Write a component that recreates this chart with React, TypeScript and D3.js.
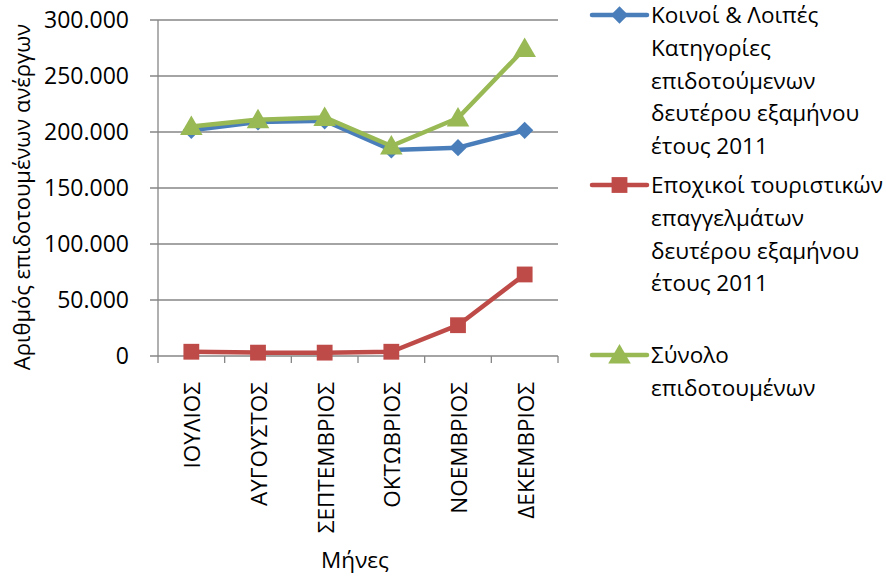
import React, { useEffect, useRef } from "react";
import * as d3 from "d3";

const months = ["ΙΟΥΛΙΟΣ", "ΑΥΓΟΥΣΤΟΣ", "ΣΕΠΤΕΜΒΡΙΟΣ", "ΟΚΤΩΒΡΙΟΣ", "ΝΟΕΜΒΡΙΟΣ", "ΔΕΚΕΜΒΡΙΟΣ"];
const commonValues = [201500, 209000, 210000, 184000, 186000, 201500];
const seasonalValues = [3800, 3000, 3000, 3800, 27500, 72800];
const totalValues = [205000, 211000, 213000, 187500, 212500, 274500];
const yTicks = [0, 50000, 100000, 150000, 200000, 250000, 300000];
const yTickLabels = ["0", "50.000", "100.000", "150.000", "200.000", "250.000", "300.000"];
const seriesNames = [
  ["Κοινοί & Λοιπές", "Κατηγορίες", "επιδοτούμενων", "δευτέρου εξαμήνου", "έτους 2011"],
  ["Εποχικοί τουριστικών", "επαγγελμάτων", "δευτέρου εξαμήνου", "έτους 2011"],
  ["Σύνολο", "επιδοτουμένων"],
];
const colors = ["#4A7EBB", "#BE4B48", "#98B954"];
const markers = ["diamond", "square", "triangle"];

const FONT = "'Open Sans', 'Noto Sans', sans-serif";
const FS = 22.5;
const FS_TICK = 23;

export default function App() {
  const ref = useRef<SVGSVGElement>(null);
  useEffect(() => {
    const svg = d3.select(ref.current);
    svg.selectAll("*").remove();
    const left = 158, right = 558, top = 20, bottom = 356;
    const x = d3.scaleBand().domain(months).range([left, right]);
    const y = d3.scaleLinear().domain([0, 300000]).range([bottom, top]);
    const grid = "#868686";

    svg.append("g").selectAll("line").data(yTicks).join("line")
      .attr("x1", left - 8).attr("x2", right)
      .attr("y1", d => y(d)).attr("y2", d => y(d))
      .attr("stroke", grid).attr("stroke-width", 1.3);
    svg.append("line").attr("x1", left).attr("x2", left).attr("y1", top).attr("y2", bottom)
      .attr("stroke", grid).attr("stroke-width", 1.3);
    const bounds = months.map(m => x(m)!).concat([right]);
    svg.append("g").selectAll("line").data(bounds).join("line")
      .attr("x1", d => d).attr("x2", d => d).attr("y1", bottom).attr("y2", bottom + 7)
      .attr("stroke", grid).attr("stroke-width", 1.3);

    svg.append("g").selectAll("text").data(yTicks).join("text")
      .attr("x", 129).attr("y", d => y(d)).attr("dy", "0.36em")
      .attr("text-anchor", "end").attr("font-family", FONT).attr("font-size", FS_TICK)
      .attr("fill", "#000").text((d, i) => yTickLabels[i]);

    svg.append("g").selectAll("text").data(months).join("text")
      .attr("transform", d => `translate(${x(d)! + x.bandwidth() / 2 + 9},382) rotate(-90)`)
      .attr("text-anchor", "end").attr("font-family", FONT).attr("font-size", FS)
      .attr("fill", "#000").text(d => d);

    svg.append("text").attr("x", 355).attr("y", 568).attr("text-anchor", "middle")
      .attr("font-family", FONT).attr("font-size", FS).text("Μήνες");
    svg.append("text").attr("transform", "translate(30,197) rotate(-90)")
      .attr("text-anchor", "middle").attr("font-family", FONT).attr("font-size", 22)
      .text("Αριθμός επιδοτουμένων ανέργων");

    const sym = (m: string) => {
      if (m === "diamond") return d3.symbol().type(d3.symbolDiamond2).size(190)();
      if (m === "square") return d3.symbol().type(d3.symbolSquare).size(250)();
      return d3.symbol().type(d3.symbolTriangle).size(220)();
    };

    const series = [commonValues, seasonalValues, totalValues];
    const line = d3.line<number>().x((_, i) => x(months[i])! + x.bandwidth() / 2).y(d => y(d));
    series.forEach((vals, si) => {
      const g = svg.append("g");
      g.append("path").attr("d", line(vals)!).attr("fill", "none")
        .attr("stroke", colors[si]).attr("stroke-width", 4.5).attr("stroke-linejoin", "round");
      g.selectAll("path.m").data(vals).join("path").attr("class", "m")
        .attr("d", sym(markers[si]))
        .attr("transform", (d, i) => `translate(${x(months[i])! + x.bandwidth() / 2},${y(d) + (markers[si] === "triangle" ? 2 : 0)})`)
        .attr("fill", colors[si]);
    });

    const legendY = [15, 185, 355];
    const lineH = 32.7;
    seriesNames.forEach((lines, si) => {
      const g = svg.append("g");
      const ly = legendY[si];
      g.append("line").attr("x1", 592).attr("x2", 647).attr("y1", ly).attr("y2", ly)
        .attr("stroke", colors[si]).attr("stroke-width", 4.5).attr("stroke-linecap", "round");
      g.append("path").attr("d", sym(markers[si]))
        .attr("transform", `translate(619.5,${ly + (markers[si] === "triangle" ? 2 : 0)})`)
        .attr("fill", colors[si]);
      lines.forEach((t, li) => {
        g.append("text").attr("x", 651).attr("y", ly + li * lineH).attr("dy", "0.36em")
          .attr("font-family", FONT).attr("font-size", FS).attr("fill", "#000").text(t);
      });
    });
  }, []);
  return <svg ref={ref} width={886} height={577} style={{ position: "absolute", left: 0, top: 0, background: "#fff" }} />;
}
